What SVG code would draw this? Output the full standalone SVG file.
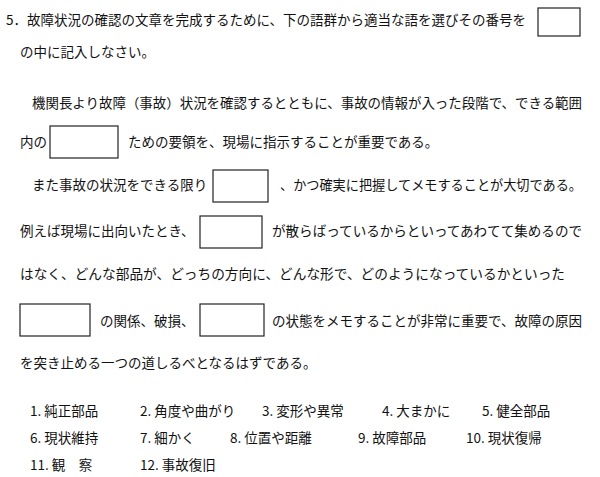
<svg xmlns="http://www.w3.org/2000/svg" width="600" height="477" viewBox="0 0 600 477">
<style>
text{font-family:"Noto Sans CJK JP","Noto Sans CJK SC",sans-serif;font-size:13.5px;fill:#111}
.b{fill:#fff;stroke:#222;stroke-width:1.2}
</style>
<rect width="600" height="477" fill="#fff"/>
<g id="body">
<text x="6" y="25" textLength="520" lengthAdjust="spacingAndGlyphs">5．故障状況の確認の文章を完成するために、下の語群から適当な語を選びその番号を</text>
<rect class="b" x="538" y="8" width="42" height="28"/>
<text x="20" y="57">の中に記入しなさい。</text>
<text x="32" y="108" textLength="550" lengthAdjust="spacingAndGlyphs">機関長より故障（事故）状況を確認するとともに、事故の情報が入った段階で、できる範囲</text>
<text x="20" y="147">内の</text>
<rect class="b" x="50" y="126" width="68" height="32"/>
<text x="128" y="147">ための要領を、現場に指示することが重要である。</text>
<text x="32" y="190">また事故の状況をできる限り</text>
<rect class="b" x="213" y="170" width="55" height="32"/>
<text x="280" y="190" textLength="302" lengthAdjust="spacingAndGlyphs">、かつ確実に把握してメモすることが大切である。</text>
<text x="20" y="236">例えば現場に出向いたとき、</text>
<rect class="b" x="200" y="216" width="62" height="32"/>
<text x="272" y="236" textLength="310" lengthAdjust="spacingAndGlyphs">が散らばっているからといってあわてて集めるので</text>
<text x="20" y="279" textLength="545" lengthAdjust="spacingAndGlyphs">はなく、どんな部品が、どっちの方向に、どんな形で、どのようになっているかといった</text>
<rect class="b" x="20" y="304" width="70" height="32"/>
<text x="100" y="326">の関係、破損、</text>
<rect class="b" x="200" y="304" width="64" height="32"/>
<text x="272" y="326" textLength="310" lengthAdjust="spacingAndGlyphs">の状態をメモすることが非常に重要で、故障の原因</text>
<text x="20" y="368">を突き止める一つの道しるべとなるはずである。</text>
</g>
<g id="choices" style="font-size:12.5px">
<text x="30" y="416">1.  純正部品</text>
<text x="140" y="416">2.  角度や曲がり</text>
<text x="262" y="416">3.  変形や異常</text>
<text x="382" y="416">4.  大まかに</text>
<text x="482" y="416">5.  健全部品</text>
<text x="30" y="443">6.  現状維持</text>
<text x="140" y="443">7.  細かく</text>
<text x="230" y="443">8.  位置や距離</text>
<text x="358" y="443">9.  故障部品</text>
<text x="466" y="443">10.  現状復帰</text>
<text x="30" y="470">11.  観　察</text>
<text x="140" y="470">12.  事故復旧</text>
</g>
</svg>
